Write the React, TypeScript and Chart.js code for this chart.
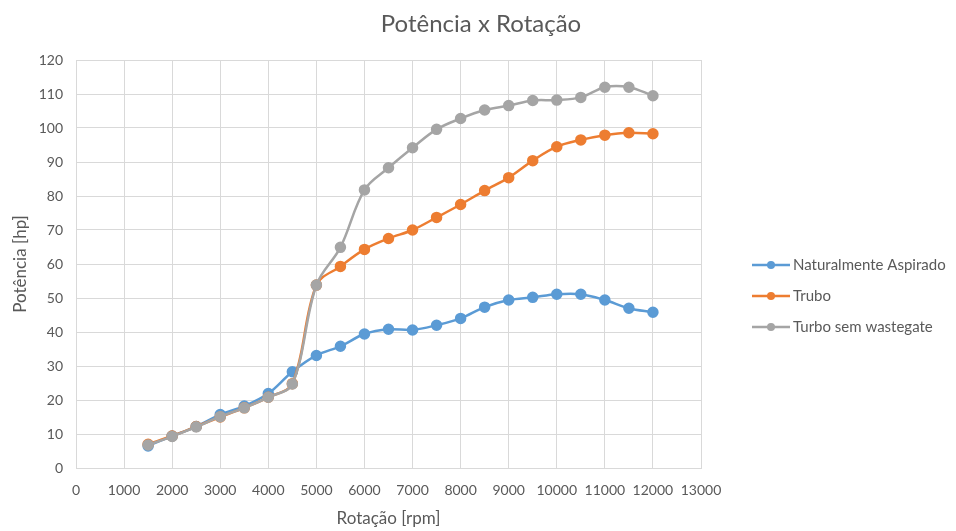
import { useEffect, useRef } from "react";
import { Chart, registerables } from "chart.js";

Chart.register(...registerables);

const chartTitle = "Potência x Rotação";
const xTitle = "Rotação [rpm]";
const yTitle = "Potência [hp]";
const seriesNames = ["Naturalmente Aspirado", "Trubo", "Turbo sem wastegate"];

const rpm = [
  1500, 2000, 2500, 3000, 3500, 4000, 4500, 5000, 5500, 6000, 6500, 7000,
  7500, 8000, 8500, 9000, 9500, 10000, 10500, 11000, 11500, 12000,
];
const naturalmenteAspirado = [
  6.5, 9.4, 12.2, 15.7, 18.2, 21.9, 28.3, 33.1, 35.8, 39.4, 40.8, 40.6, 42.0,
  44.0, 47.3, 49.4, 50.2, 51.1, 51.1, 49.4, 47.0, 45.8,
];
const trubo = [
  7.0, 9.4, 12.2, 15.0, 17.7, 20.8, 24.8, 53.8, 59.3, 64.3, 67.5, 70.0, 73.7,
  77.5, 81.6, 85.4, 90.4, 94.5, 96.5, 97.9, 98.6, 98.3,
];
const turboSemWastegate = [
  6.8, 9.3, 12.1, 15.1, 17.7, 20.8, 24.7, 53.8, 64.9, 81.8, 88.3, 94.2, 99.6,
  102.8, 105.3, 106.6, 108.1, 108.2, 109.0, 112.0, 112.0, 109.5,
];

const colors = ["#5B9BD5", "#ED7D31", "#A5A5A5"];
const textColor = "#595959";
const gridColor = "#D9D9D9";
const FONT = "Lato";

const toPoints = (vals: number[]) => rpm.map((x, i) => ({ x, y: vals[i] }));

const overlayPlugin = {
  id: "overlay",
  afterDraw(chart: any) {
    const ctx = chart.ctx as CanvasRenderingContext2D;
    ctx.save();
    ctx.fillStyle = textColor;
    ctx.font = `24px ${FONT}`;
    ctx.textAlign = "center";
    ctx.textBaseline = "alphabetic";
    ctx.fillText(chartTitle, 481, 32);

    const ys = [265, 296, 327];
    chart.data.datasets.forEach((ds: any, i: number) => {
      const y = ys[i];
      ctx.strokeStyle = ds.borderColor;
      ctx.lineWidth = 2.5;
      ctx.beginPath();
      ctx.moveTo(752, y);
      ctx.lineTo(790, y);
      ctx.stroke();
      ctx.fillStyle = ds.borderColor;
      ctx.beginPath();
      ctx.arc(771, y, 4, 0, Math.PI * 2);
      ctx.fill();
      ctx.fillStyle = textColor;
      ctx.font = `15px ${FONT}`;
      ctx.textAlign = "left";
      ctx.textBaseline = "middle";
      ctx.fillText(ds.label, 793, y);
    });
    ctx.restore();
  },
};

export default function App() {
  const canvasRef = useRef<HTMLCanvasElement>(null);

  useEffect(() => {
    if (!canvasRef.current) return;
    const seriesValues = [naturalmenteAspirado, trubo, turboSemWastegate];
    const chart = new Chart(canvasRef.current, {
      type: "line",
      data: {
        datasets: seriesValues.map((vals, i) => ({
          label: seriesNames[i],
          data: toPoints(vals),
          borderColor: colors[i],
          backgroundColor: colors[i],
          pointBackgroundColor: colors[i],
          pointBorderColor: colors[i],
          borderWidth: 2.5,
          pointRadius: 4.5,
          pointHoverRadius: 4.5,
          tension: 0.35,
          fill: false,
          order: 3 - i,
        })),
      },
      options: {
        animation: false,
        responsive: true,
        maintainAspectRatio: false,
        layout: { padding: { top: 60, right: 255, bottom: 0, left: 0 } },
        plugins: {
          legend: { display: false },
          title: { display: false },
          tooltip: { enabled: false },
        },
        scales: {
          x: {
            type: "linear",
            min: 0,
            max: 13000,
            afterFit: (s: any) => {
              s.height = 63;
            },
            ticks: {
              stepSize: 1000,
              autoSkip: false,
              maxRotation: 0,
              color: textColor,
              font: { family: FONT, size: 14 },
              padding: 14,
              callback: (v: any) => String(v),
            },
            grid: { color: gridColor, drawTicks: false },
            border: { color: gridColor },
            title: {
              display: true,
              text: xTitle,
              color: textColor,
              font: { family: FONT, size: 17 },
              padding: { top: 0, bottom: 2 },
            },
          },
          y: {
            type: "linear",
            min: 0,
            max: 120,
            afterFit: (s: any) => {
              s.width = 76;
            },
            ticks: {
              stepSize: 10,
              color: textColor,
              font: { family: FONT, size: 14 },
              padding: 13,
              callback: (v: any) => String(v),
            },
            grid: { color: gridColor, drawTicks: false },
            border: { color: gridColor },
            title: {
              display: true,
              text: yTitle,
              color: textColor,
              font: { family: FONT, size: 17 },
              padding: { top: 10, bottom: 0 },
            },
          },
        },
      },
      plugins: [overlayPlugin],
    });
    return () => chart.destroy();
  }, []);

  return (
    <div style={{ position: "fixed", left: 0, top: 0, width: 956, height: 531 }}>
      <canvas ref={canvasRef} />
    </div>
  );
}
